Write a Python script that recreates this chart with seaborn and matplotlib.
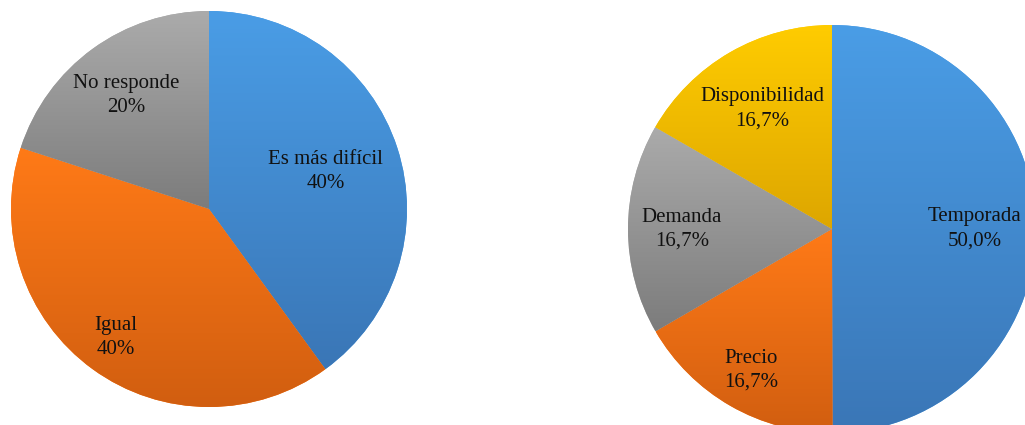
import seaborn as sns
import matplotlib.pyplot as plt
import numpy as np
from matplotlib.colors import LinearSegmentedColormap

# Data
left_labels = ["Es más difícil", "Igual", "No responde"]
left_values = [40, 40, 20]
left_pct = ["40%", "40%", "20%"]

right_labels = ["Temporada", "Precio", "Demanda", "Disponibilidad"]
right_values = [50.0, 16.7, 16.7, 16.7]
right_pct = ["50,0%", "16,7%", "16,7%", "16,7%"]

# Excel-like gradient colours (top, bottom)
blue = ("#4A9DE6", "#3A76B6")
orange = ("#FF7A17", "#D15E10")
gray = ("#ABABAB", "#7C7C7C")
yellow = ("#FFCC00", "#DDA600")

sns.set_theme(style="white")
plt.rcParams["font.family"] = ["Liberation Serif", "DejaVu Serif"]

fig = plt.figure(figsize=(10.25, 4.25), dpi=100)
W, H = 1025, 425


def add_pie_axes(cx, cy, r):
    # cx, cy, r in pixels (y measured from top)
    return fig.add_axes([(cx - r) / W, (H - cy - r) / H, 2 * r / W, 2 * r / H])


def draw_pie(ax, values, labels, pcts, colors, dists):
    wedges, _ = ax.pie(values, startangle=90, counterclock=False,
                       colors=[c[0] for c in colors], radius=1,
                       wedgeprops=dict(linewidth=0))
    total = float(sum(values))
    start = 90.0
    for w, v, lab, p, col, d in zip(wedges, values, labels, pcts, colors, dists):
        # vertical gradient within the wedge's bounding box
        verts = w.get_path().vertices
        ymin, ymax = verts[:, 1].min(), verts[:, 1].max()
        xmin, xmax = verts[:, 0].min(), verts[:, 0].max()
        cmap = LinearSegmentedColormap.from_list("g", [col[1], col[0]])
        grad = np.linspace(0, 1, 256).reshape(-1, 1)
        im = ax.imshow(grad, cmap=cmap, origin="lower", aspect="auto",
                       extent=[xmin, xmax, ymin, ymax], zorder=w.get_zorder() + 0.1)
        im.set_clip_path(w)
        # label at the slice's mid angle
        sweep = 360.0 * v / total
        mid = np.deg2rad(start - sweep / 2)
        start -= sweep
        ax.text(d * np.cos(mid), d * np.sin(mid), f"{lab}\n{p}",
                ha="center", va="center", fontsize=15, color="#111111",
                linespacing=1.35, zorder=5)
    ax.set_xlim(-1, 1)
    ax.set_ylim(-1, 1)
    ax.set_aspect("auto")
    ax.axis("off")


ax1 = add_pie_axes(209, 209, 198)
draw_pie(ax1, left_values, left_labels, left_pct, [blue, orange, gray],
         [0.62, 0.80, 0.71])

ax2 = add_pie_axes(832, 229, 204)
draw_pie(ax2, right_values, right_labels, right_pct, [blue, orange, gray, yellow],
         [0.70, 0.80, 0.735, 0.68])

plt.savefig("out.png", dpi=100)
